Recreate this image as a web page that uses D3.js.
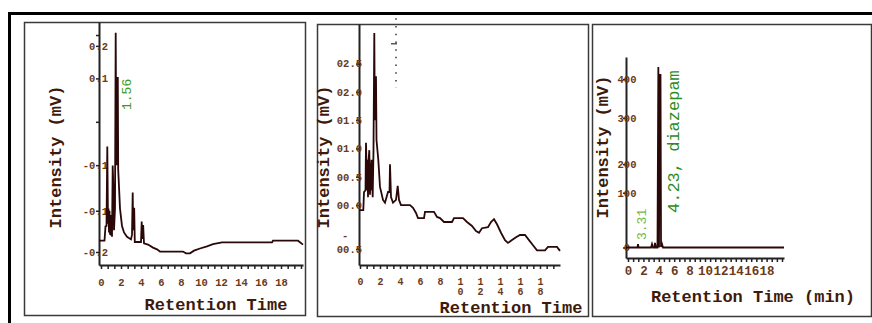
<!DOCTYPE html>
<html>
<head>
<meta charset="utf-8">
<script src="https://cdn.jsdelivr.net/npm/d3@7"></script>
<style>
  body { margin: 0; background: #fff; }
  svg { display: block; }
  text { font-family: "Liberation Mono", "Courier New", monospace; }
</style>
</head>
<body>
<svg id="chart" width="872" height="323"></svg>
<script>
// ---- panel 1 ----
const p1Time = [-0.2,0.35,0.45,0.55,0.63,0.7,0.75,0.8,0.85,0.9,0.95,1.0,1.05,1.1,1.17,1.25,1.3,1.4,1.47,1.52,1.55,1.6,1.63,1.68,1.72,1.8,1.9,2.1,2.3,2.6,3.0,3.1,3.17,3.22,3.27,3.32,3.38,4.0,4.07,4.12,4.17,4.22,4.3,4.7,5.2,5.6,5.9,8.2,8.5,8.9,9.3,9.9,10.6,11.2,12.1,17.1,17.2,19.7,20.2];
const p1Signal = [-0.274,-0.274,-0.241,-0.24,-0.057,-0.235,-0.2,-0.255,-0.205,-0.26,-0.215,-0.262,-0.22,-0.265,-0.101,-0.16,-0.25,-0.2,0.205,-0.05,0.101,-0.1,0.101,0.101,-0.11,-0.15,-0.2,-0.24,-0.255,-0.265,-0.271,-0.26,-0.163,-0.25,-0.2,-0.2,-0.277,-0.277,-0.23,-0.27,-0.24,-0.24,-0.28,-0.283,-0.29,-0.294,-0.299,-0.299,-0.303,-0.303,-0.297,-0.292,-0.287,-0.282,-0.278,-0.278,-0.274,-0.274,-0.283];
const p1YTicks = [0.2, 0.175, 0.1, 0, -0.1, -0.205, -0.3];
const p1YLabels = ["", "0.2", "0.1", "", "-0.1", "-0.1", "-0.2"];

// ---- panel 2 ----
const p2Time = [-0.1,0.33,0.4,0.55,0.6,0.7,0.75,0.8,0.85,0.93,1.0,1.05,1.1,1.15,1.27,1.35,1.43,1.48,1.52,1.6,1.65,1.83,2.0,2.3,2.5,2.8,2.95,3.0,3.1,3.3,3.6,3.77,3.9,4.1,5.0,5.3,5.6,5.8,6.4,6.5,7.4,7.7,8.0,8.4,9.2,9.4,10.3,10.7,11.2,11.6,11.9,12.2,12.8,13.1,13.4,13.7,14.1,14.5,14.8,15.2,15.6,16.0,16.5,16.9,17.3,17.7,18.5,18.8,19.7,20.0];
const p2Signal = [-0.009,-0.009,0.023,0.026,0.11,0.026,0.08,0.014,0.076,0.097,0.018,0.074,0.026,0.08,0.014,0.097,0.304,0.15,0.226,0.226,0.115,0.08,0.032,0.009,0.004,0.023,0.023,0.072,0.014,0.004,0.009,0.034,0.009,0,0,-0.005,-0.014,-0.023,-0.023,-0.012,-0.012,-0.021,-0.023,-0.03,-0.03,-0.023,-0.023,-0.03,-0.037,-0.046,-0.049,-0.041,-0.039,-0.03,-0.025,-0.034,-0.049,-0.062,-0.067,-0.062,-0.057,-0.053,-0.053,-0.062,-0.071,-0.08,-0.08,-0.074,-0.074,-0.081];
const p2YTicks = [0.25, 0.2, 0.15, 0.1, 0.05, 0, -0.078];
const p2YLabels = ["02.5", "02.0", "01.5", "01.0", "00.5", "00.0", "00.5"];
const p2Marker = 3.6;

// ---- panel 3 ----
const p3Time = [-0.26,1.23,1.3,1.36,3.0,3.12,3.25,3.44,3.5,3.64,3.83,3.94,4.03,4.09,4.22,4.29,4.42,4.55,20.26];
const p3Signal = [0,0,8,0,0,8,0,0,11,0,0,429,0,410,410,1,8,0,0];
const p3YTicks = [0, 130, 198, 308, 400];
const p3YLabels = ["0", "100", "200", "300", "400"];

const xTickLabels = [0, 2, 4, 6, 8, 10, 12, 14, 16, 18];

const traceColor = "#2a0808";
const textColor = "#3d1a0a";
const tickColor = "#6a3a1a";

const svg = d3.select("#chart");

// outer frame (top and left only visible)
svg.append("path")
  .attr("d", "M9.5,323 V13.5 H872")
  .attr("fill", "none")
  .attr("stroke", "#000")
  .attr("stroke-width", 3);

function drawPanel(cfg) {
  const g = svg.append("g");
  g.append("rect")
    .attr("x", cfg.box[0] + 0.5).attr("y", cfg.box[1] + 0.5)
    .attr("width", cfg.box[2]).attr("height", cfg.box[3])
    .attr("fill", "#fff").attr("stroke", "#3a3a3a").attr("stroke-width", 1.5);

  const x = d3.scaleLinear().domain(cfg.xDomain).range([cfg.left, cfg.right]);
  const y = d3.scaleLinear().domain(cfg.yDomain).range([cfg.bottom, cfg.top]);

  // minor x ticks
  const minor = d3.range(0, cfg.xDomain[1], 2 / 3);
  g.append("g")
    .attr("transform", `translate(0,${cfg.bottom})`)
    .call(d3.axisBottom(x).tickValues(minor).tickSize(4).tickSizeOuter(0).tickFormat(""))
    .call(a => a.select(".domain").attr("stroke", "#222").attr("stroke-width", 2))
    .call(a => a.selectAll(".tick line").attr("stroke", "#222").attr("stroke-width", 1.5));

  // x labels
  const xl = g.append("g")
    .attr("transform", `translate(0,${cfg.bottom})`)
    .call(d3.axisBottom(x).tickValues(xTickLabels).tickSize(0).tickPadding(cfg.xLabelPad))
    .call(a => a.select(".domain").remove());
  xl.selectAll("text")
    .attr("fill", tickColor)
    .style("font-size", cfg.xLabelSize + "px")
    .style("font-weight", "bold")
    .style("font-family", '"Liberation Mono", monospace');
  if (cfg.wrapLabels) {
    // two-digit labels wrap onto two lines, as in the original
    xl.selectAll("text").each(function (d) {
      if (d < 10) return;
      const t = d3.select(this).text("");
      const s = String(d);
      t.append("tspan").attr("x", 0).text(s[0]);
      t.append("tspan").attr("x", 0).attr("dy", "10.5").text(s[1]);
    });
  }

  // y axis
  const ya = g.append("g")
    .attr("transform", `translate(${cfg.left},0)`)
    .call(d3.axisLeft(y).tickValues(cfg.yTicks)
      .tickFormat((d, i) => cfg.yLabels[i])
      .tickSize(3).tickSizeOuter(0).tickPadding(cfg.yLabelPad))
    .call(a => a.select(".domain").attr("stroke", "#222").attr("stroke-width", 2))
    .call(a => a.selectAll(".tick line").attr("stroke", "#222").attr("stroke-width", 1.5));
  ya.selectAll("text")
    .attr("fill", tickColor)
    .attr("text-anchor", cfg.yAnchor)
    .style("font-size", "10.5px")
    .style("font-weight", "bold")
    .style("font-family", '"Liberation Mono", monospace');

  // trace
  const pts = cfg.time.map((t, i) => [t, cfg.signal[i]]);
  g.append("path")
    .datum(pts)
    .attr("d", d3.line().x(d => x(d[0])).y(d => y(d[1])))
    .attr("fill", "none")
    .attr("stroke", traceColor)
    .attr("stroke-width", 1.8)
    .attr("stroke-linejoin", "miter");

  // axis titles
  g.append("text")
    .attr("x", cfg.xTitle[0]).attr("y", cfg.xTitle[1])
    .attr("text-anchor", "middle")
    .attr("fill", textColor)
    .style("font-size", "17px").style("font-weight", "bold")
    .text(cfg.xTitleText);
  g.append("text")
    .attr("transform", `translate(${cfg.yTitle[0]},${cfg.yTitle[1]}) rotate(-90)`)
    .attr("text-anchor", "middle")
    .attr("dy", "0.35em")
    .attr("fill", textColor)
    .style("font-size", "17px").style("font-weight", "bold")
    .text("Intensity (mV)");

  return { g, x, y };
}

function label(g, px, py, txt, size, color) {
  g.append("text")
    .attr("transform", `translate(${px},${py}) rotate(-90)`)
    .attr("dy", "0.35em")
    .attr("fill", color)
    .style("font-size", size + "px")
    .text(txt);
}

// panel 1
const P1 = drawPanel({
  box: [24, 22, 281, 293],
  left: 99, right: 303, top: 22, bottom: 265,
  xDomain: [-0.2, 20.2], yDomain: [-0.33, 0.23],
  time: p1Time, signal: p1Signal,
  yTicks: p1YTicks, yLabels: p1YLabels, yLabelPad: -12, yAnchor: "end",
  xLabelPad: 14, xLabelSize: 10.5, wrapLabels: false,
  xTitle: [216, 310], xTitleText: "Retention Time",
  yTitle: [55, 157]
});
label(P1.g, P1.x(1.56) + 10, 110, "1.56", 13, "#3c9a28");

// panel 2
const P2 = drawPanel({
  box: [317, 24, 271, 292],
  left: 359, right: 560, top: 24, bottom: 265,
  xDomain: [-0.1, 20.0], yDomain: [-0.106, 0.32],
  time: p2Time, signal: p2Signal,
  yTicks: p2YTicks, yLabels: p2YLabels, yLabelPad: -6, yAnchor: "end",
  xLabelPad: 12.5, xLabelSize: 10, wrapLabels: true,
  xTitle: [511, 312.5], xTitleText: "Retention Time",
  yTitle: [323, 157]
});
P2.g.append("text")
  .attr("x", 342).attr("y", P2.y(-0.053)).attr("dy", "0.35em")
  .attr("fill", tickColor).style("font-size", "10.5px").style("font-weight", "bold")
  .text("-");
P2.g.append("line")
  .attr("x1", P2.x(p2Marker)).attr("x2", P2.x(p2Marker))
  .attr("y1", P2.y(0.33)).attr("y2", P2.y(0.207))
  .attr("stroke", "#333").attr("stroke-width", 1.5)
  .attr("stroke-dasharray", "1.5,6.2");
P2.g.append("line")
  .attr("x1", P2.x(p2Marker) - 5).attr("x2", P2.x(p2Marker) + 1)
  .attr("y1", P2.y(0.285)).attr("y2", P2.y(0.285))
  .attr("stroke", "#333").attr("stroke-width", 1.2);

// panel 3
const P3 = drawPanel({
  box: [592, 24, 279, 292],
  left: 626, right: 784, top: 57, bottom: 258,
  xDomain: [-0.26, 20.26], yDomain: [-25, 452.5],
  time: p3Time, signal: p3Signal,
  yTicks: p3YTicks, yLabels: p3YLabels, yLabelPad: -4, yAnchor: "middle",
  xLabelPad: 8, xLabelSize: 12.5, wrapLabels: false,
  xTitle: [753, 302], xTitleText: "Retention Time (min)",
  yTitle: [602, 147]
});
label(P3.g, P3.x(4.23) + 12, 213, "4.23, diazepam", 17, "#2e8b1e");
label(P3.g, P3.x(3.31) - 12, 240, "3.31", 13, "#7ab84a");
</script>
</body>
</html>
